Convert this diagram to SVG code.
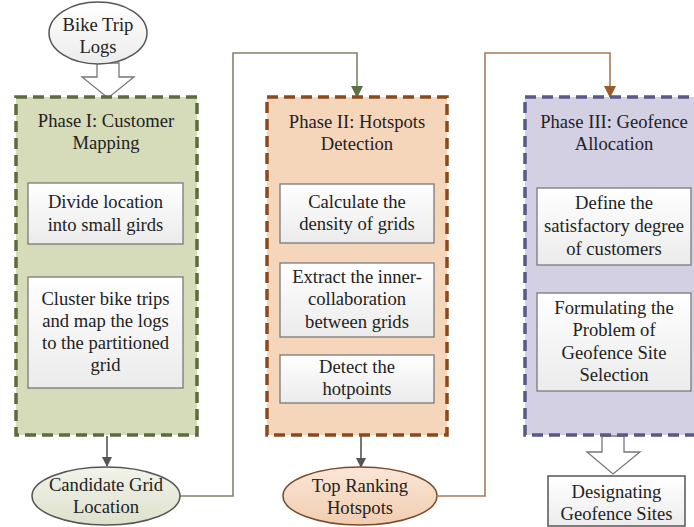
<svg xmlns="http://www.w3.org/2000/svg" width="694" height="527" viewBox="0 0 694 527">
<style>
text{font-family:"Liberation Serif","Times New Roman",serif;font-size:18.6px;fill:#222;text-anchor:middle}
.inner{fill:url(#gInner);stroke:#7a7a7a;stroke-width:1.3}
.ph{stroke-width:3.5;stroke-dasharray:11 6}
.conn{fill:none;stroke-width:1.6}
</style>
<defs>
<linearGradient id="gInner" x1="0" y1="0" x2="0" y2="1"><stop offset="0" stop-color="#ffffff"/><stop offset="1" stop-color="#ebebeb"/></linearGradient>
<linearGradient id="gWhite" x1="0" y1="0" x2="0" y2="1"><stop offset="0" stop-color="#ffffff"/><stop offset="1" stop-color="#ececec"/></linearGradient>
<linearGradient id="gGreen" x1="0" y1="0" x2="0" y2="1"><stop offset="0" stop-color="#f2f3ea"/><stop offset="1" stop-color="#dde1cb"/></linearGradient>
<linearGradient id="gOrange" x1="0" y1="0" x2="0" y2="1"><stop offset="0" stop-color="#fae6d6"/><stop offset="1" stop-color="#f1cdb0"/></linearGradient>
<marker id="aGray" markerWidth="10" markerHeight="10" refX="9" refY="5" orient="auto" markerUnits="userSpaceOnUse"><path d="M0,0 L10,5 L0,10 z" fill="#555"/></marker>
<marker id="aGreen" markerWidth="12" markerHeight="12" refX="11" refY="6" orient="auto" markerUnits="userSpaceOnUse"><path d="M0,0 L12,6 L0,12 z" fill="#5f7045"/></marker>
<marker id="aBrown" markerWidth="12" markerHeight="12" refX="11" refY="6" orient="auto" markerUnits="userSpaceOnUse"><path d="M0,0 L12,6 L0,12 z" fill="#9a5a2a"/></marker>
</defs>

<g id="connectors">
<path class="conn" d="M180,496 H233 V53 H357 V97" stroke="#7a876a" marker-end="url(#aGreen)"/>
<path class="conn" d="M438,496 H485 V53 H610 V97" stroke="#a87a55" marker-end="url(#aBrown)"/>
<path class="conn" d="M107,436 V466" stroke="#555" stroke-width="1.8" marker-end="url(#aGray)"/>
<path class="conn" d="M361,436 V467" stroke="#555" stroke-width="1.8" marker-end="url(#aGray)"/>
<path d="M97,63 H119 V77 H134 L108,98 L82,77 H97 Z" fill="#ffffff" stroke="#777" stroke-width="1.3"/>
<path d="M602,436 H624 V452 H640 L613,474 L587,452 H602 Z" fill="#ffffff" stroke="#777" stroke-width="1.3"/>
</g>

<g id="bike-trip-logs">
<ellipse cx="98" cy="33" rx="49" ry="31" fill="url(#gWhite)" stroke="#555" stroke-width="1.5"/>
<text x="98" y="31">Bike Trip</text>
<text x="98" y="53">Logs</text>
</g>

<g id="phase1">
<rect class="ph" x="16" y="97" width="181" height="338" fill="#d6dbb9" stroke="#5c6b3e"/>
<text x="106" y="127">Phase I: Customer</text>
<text x="106" y="149">Mapping</text>
</g>
<g id="p1-divide">
<rect class="inner" x="28" y="183" width="155" height="61"/>
<text x="105.5" y="208">Divide location</text>
<text x="105.5" y="231">into small girds</text>
</g>
<g id="p1-cluster">
<rect class="inner" x="28" y="277" width="155" height="111"/>
<text x="105.5" y="305">Cluster bike trips</text>
<text x="105.5" y="327">and map the logs</text>
<text x="105.5" y="349">to the partitioned</text>
<text x="105.5" y="371">grid</text>
</g>

<g id="candidate-grid">
<ellipse cx="106" cy="496" rx="74" ry="29" fill="url(#gGreen)" stroke="#555" stroke-width="1.5"/>
<text x="106" y="491">Candidate Grid</text>
<text x="106" y="513">Location</text>
</g>

<g id="phase2">
<rect class="ph" x="267" y="97" width="180" height="338" fill="#f6d6bb" stroke="#8a4a1e"/>
<text x="357" y="128">Phase II: Hotspots</text>
<text x="357" y="150">Detection</text>
</g>
<g id="p2-density">
<rect class="inner" x="280" y="184" width="154" height="59"/>
<text x="357" y="208">Calculate the</text>
<text x="357" y="230">density of grids</text>
</g>
<g id="p2-extract">
<rect class="inner" x="280" y="263" width="154" height="74"/>
<text x="357" y="283">Extract the inner-</text>
<text x="357" y="305">collaboration</text>
<text x="357" y="328">between grids</text>
</g>
<g id="p2-detect">
<rect class="inner" x="280" y="355" width="154" height="48"/>
<text x="357" y="373">Detect the</text>
<text x="357" y="395">hotpoints</text>
</g>

<g id="top-ranking">
<ellipse cx="360" cy="496" rx="77" ry="29" fill="url(#gOrange)" stroke="#7a4a2a" stroke-width="1.5"/>
<text x="360" y="492">Top Ranking</text>
<text x="360" y="514">Hotspots</text>
</g>

<g id="phase3">
<rect class="ph" x="525" y="97" width="180" height="338" fill="#d3d0e4" stroke="#5a5888"/>
<text x="614" y="128">Phase III: Geofence</text>
<text x="614" y="150">Allocation</text>
</g>
<g id="p3-define">
<rect class="inner" x="537" y="188" width="154" height="77"/>
<text x="614" y="209">Define the</text>
<text x="614" y="232">satisfactory degree</text>
<text x="614" y="255">of customers</text>
</g>
<g id="p3-formulate">
<rect class="inner" x="537" y="293" width="154" height="98"/>
<text x="614" y="314">Formulating the</text>
<text x="614" y="336">Problem of</text>
<text x="614" y="359">Geofence Site</text>
<text x="614" y="381">Selection</text>
</g>

<g id="designating">
<rect x="548" y="476" width="137" height="50" fill="url(#gWhite)" stroke="#555" stroke-width="1.5"/>
<text x="616.5" y="498">Designating</text>
<text x="616.5" y="520">Geofence Sites</text>
</g>
</svg>
